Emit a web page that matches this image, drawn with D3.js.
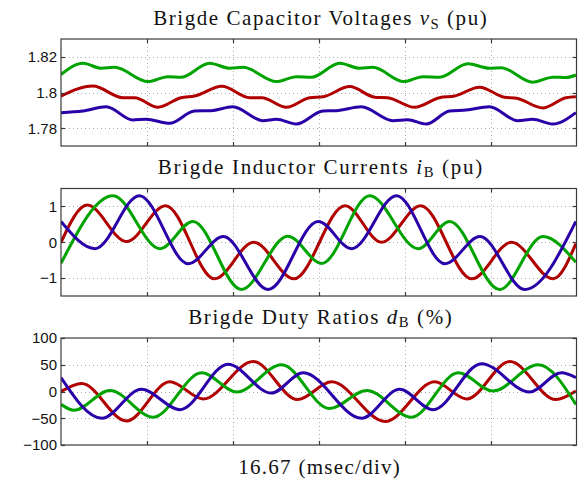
<!DOCTYPE html>
<html><head><meta charset="utf-8">
<script src="https://cdn.jsdelivr.net/npm/d3@7"></script>
<style>body{margin:0;background:#fff}svg{display:block}</style>
</head><body><svg id="c" width="582" height="480"></svg>
<script>
// ---- data (time in ms, 16.67 ms per division) ----
const msPerDiv = 16.67;
const xDivisions = [0, 1, 2, 3, 4, 5, 6];

const capTicks = [1.78, 1.8, 1.82];
const curTicks = [-1, 0, 1];
const dutyTicks = [-100, -50, 0, 50, 100];

const capGreen = [[0,1.8101],[4.26,1.8164],[7.81,1.8136],[10.41,1.8141],[16.86,1.8061],[20.74,1.8089],[23.31,1.8085],[28.82,1.8164],[32.76,1.8136],[35.33,1.8141],[41.80,1.8061],[45.68,1.8089],[48.59,1.8085],[54.07,1.8164],[57.95,1.8136],[60.53,1.8141],[66.48,1.8061],[70.22,1.8089],[73.45,1.8085],[78.93,1.8161],[83.14,1.8136],[85.41,1.8139],[91.53,1.8058],[95.41,1.8086],[98.00,1.8084],[99.9,1.8098]];
const capRed = [[0,1.7980],[6.20,1.8036],[12.02,1.7971],[14.28,1.7971],[18.80,1.7917],[23.31,1.7971],[25.91,1.7980],[31.20,1.8035],[36.63,1.7971],[38.95,1.7971],[43.74,1.7917],[48.26,1.7971],[50.83,1.7976],[56.01,1.8033],[60.86,1.7974],[63.37,1.7971],[68.60,1.7917],[73.45,1.7971],[76.36,1.7980],[81.20,1.8030],[86.05,1.7973],[88.37,1.7968],[93.47,1.7913],[98.00,1.7971],[99.9,1.7976]];
const capBlue = [[0,1.7887],[4.26,1.7896],[8.78,1.7920],[13.95,1.7846],[16.53,1.7850],[21.07,1.7827],[25.91,1.7896],[29.13,1.7898],[33.33,1.7920],[39.21,1.7842],[41.80,1.7850],[45.68,1.7823],[50.83,1.7896],[53.43,1.7898],[58.28,1.7920],[64.40,1.7842],[67.25,1.7847],[70.87,1.7823],[75.39,1.7896],[78.62,1.7902],[83.14,1.7920],[88.62,1.7842],[91.53,1.7850],[95.41,1.7823],[99.9,1.7887]];

const curRed = [[0,0],[5.1,1.04],[12.7,0.02],[20.3,1.02],[29.8,-1.02],[37.4,0.0],[45.2,-1.02],[55.1,1.02],[62.2,0.0],[69.8,1.02],[79.7,-1.02],[87.4,0.0],[95.5,-1.02],[99.9,-0.04]];
const curGreen = [[0,-0.59],[10.1,1.30],[19.2,-0.18],[25.6,0.58],[35.0,-1.32],[44.0,0.17],[50.6,-0.59],[59.9,1.30],[69.3,-0.18],[75.4,0.58],[85.1,-1.32],[93.5,0.16],[99.9,-0.56]];
const curBlue = [[0,0.58],[6.6,-0.18],[15.2,1.30],[24.7,-0.60],[31.5,0.16],[40.2,-1.32],[49.9,0.58],[56.4,-0.18],[65.1,1.30],[74.5,-0.60],[81.3,0.16],[90.0,-1.32],[99.9,0.58]];

const dutyRed = [[0,0],[4.0,15],[12.7,-55],[21.1,18],[27.6,-14],[37.3,56],[45.9,-15],[52.5,18],[62.9,-56],[72.5,18],[78.7,-14],[87.1,56],[96.0,-15],[99.9,1]];
const dutyGreen = [[0,-24],[2.5,-35],[9.5,2],[17.9,-48],[27.3,35],[34.1,-1],[42.8,50],[52.1,-32],[59.3,2],[68.0,-48],[77.1,35],[83.8,1],[92.6,50],[99.9,-24]];
const dutyBlue = [[0,26],[7.9,-50],[15.6,4],[23.1,-34],[32.4,51],[40.8,-3],[47.0,35],[58.3,-50],[65.7,4],[72.2,-34],[81.6,52],[90.9,-1],[97.1,35],[99.9,26]];

const colRed = "#b00000", colGreen = "#00a300", colBlue = "#2a00a8";

// ---- layout ----
const svg = d3.select("#c");
const L = 61, R = 576.5;
const x = d3.scaleLinear().domain([0, 6 * msPerDiv]).range([L, R]);
const minus = s => String(s).replace("-", "\u2212");

const panels = [
  {top: 39, bottom: 146, domain: [1.77, 1.83], ticks: capTicks,
   title: [["Brigde Capacitor Voltages ", ""], ["v", "i"], ["S", "sub"], [" (pu)", ""]], titleY: 25, titleW: 335,
   series: [[capRed, colRed], [capGreen, colGreen], [capBlue, colBlue]]},
  {top: 188.5, bottom: 296, domain: [-1.5, 1.5], ticks: curTicks,
   title: [["Brigde Inductor Currents ", ""], ["i", "i"], ["B", "sub"], [" (pu)", ""]], titleY: 173.5, titleW: 326,
   series: [[curRed, colRed], [curGreen, colGreen], [curBlue, colBlue]]},
  {top: 338, bottom: 445, domain: [-100, 100], ticks: dutyTicks,
   title: [["Brigde Duty Ratios ", ""], ["d", "i"], ["B", "sub"], [" (%)", ""]], titleY: 323.5, titleW: 265,
   series: [[dutyRed, colRed], [dutyGreen, colGreen], [dutyBlue, colBlue]]}
];

const titleSize = 21;
function buildText(g, parts, cx, cy, size, ls) {
  const t = g.append("text").attr("x", cx).attr("y", cy).attr("text-anchor", "middle")
    .attr("font-family", "'Liberation Serif', 'DejaVu Serif', serif").attr("font-size", size)
    .attr("letter-spacing", ls).attr("fill", "#111");
  let shifted = false;
  parts.forEach(([s, k]) => {
    const ts = t.append("tspan").text(s);
    if (k === "i") ts.attr("font-style", "italic");
    if (k === "sub") { ts.attr("font-size", size * 0.7).attr("dy", size * 0.17); shifted = true; }
    else if (shifted) { ts.attr("dy", -size * 0.17); shifted = false; }
  });
  return t;
}
function richText(g, parts, cx, cy, targetW) {
  let t = buildText(g, parts, cx, cy, titleSize, 0);
  const w = t.node().getComputedTextLength();
  t.remove();
  const n = parts.map(p => p[0]).join("").length;
  return buildText(g, parts, cx + (targetW - w) / n / 2, cy, titleSize, (targetW - w) / n);
}

panels.forEach(p => {
  const y = d3.scaleLinear().domain(p.domain).range([p.bottom, p.top]);
  const g = svg.append("g");
  // grid
  const grid = g.append("g").attr("stroke", "#aaa").attr("stroke-width", 1).attr("stroke-dasharray", "1,3");
  xDivisions.slice(1, -1).forEach(d => {
    const xx = Math.round(x(d * msPerDiv)) + 0.5;
    grid.append("line").attr("x1", xx).attr("x2", xx).attr("y1", p.top).attr("y2", p.bottom);
  });
  p.ticks.forEach(v => {
    const yy = Math.round(y(v)) + 0.5;
    if (yy > p.top + 1 && yy < p.bottom - 1)
      grid.append("line").attr("x1", L).attr("x2", R).attr("y1", yy).attr("y2", yy);
  });
  // series
  const line = d3.line().x(d => x(d[0])).y(d => y(d[1])).curve(d3.curveMonotoneX);
  const clipId = "clip" + Math.round(p.top);
  svg.append("clipPath").attr("id", clipId).append("rect")
    .attr("x", L).attr("y", p.top).attr("width", R - L).attr("height", p.bottom - p.top);
  p.series.forEach(([data, col]) => {
    g.append("path").datum(data).attr("d", line).attr("fill", "none")
      .attr("stroke", col).attr("stroke-width", 3).attr("stroke-linejoin", "round")
      .attr("clip-path", `url(#${clipId})`);
  });
  // frame + ticks
  const fr = g.append("g").attr("stroke", "#3a3a3a").attr("stroke-width", 1.2).attr("fill", "none");
  fr.append("rect").attr("x", L).attr("y", p.top).attr("width", R - L).attr("height", p.bottom - p.top);
  xDivisions.slice(1, -1).forEach(d => {
    const xx = Math.round(x(d * msPerDiv)) + 0.5;
    fr.append("line").attr("x1", xx).attr("x2", xx).attr("y1", p.top).attr("y2", p.top + 4);
    fr.append("line").attr("x1", xx).attr("x2", xx).attr("y1", p.bottom).attr("y2", p.bottom - 4);
  });
  p.ticks.forEach(v => {
    const yy = Math.round(y(v)) + 0.5;
    fr.append("line").attr("x1", L).attr("x2", L + 4).attr("y1", yy).attr("y2", yy);
    fr.append("line").attr("x1", R).attr("x2", R - 4).attr("y1", yy).attr("y2", yy);
    g.append("text").attr("x", L - 4).attr("y", y(v)).attr("dy", "0.36em").attr("text-anchor", "end")
      .attr("font-family", "'Liberation Sans', Arial, sans-serif").attr("font-size", 15).attr("fill", "#111")
      .text(minus(v));
  });
  richText(g, p.title, 320, p.titleY, p.titleW);
});

richText(svg, [["16.67 (msec/div)", ""]], 319, 473.5, 163);
</script></body></html>
